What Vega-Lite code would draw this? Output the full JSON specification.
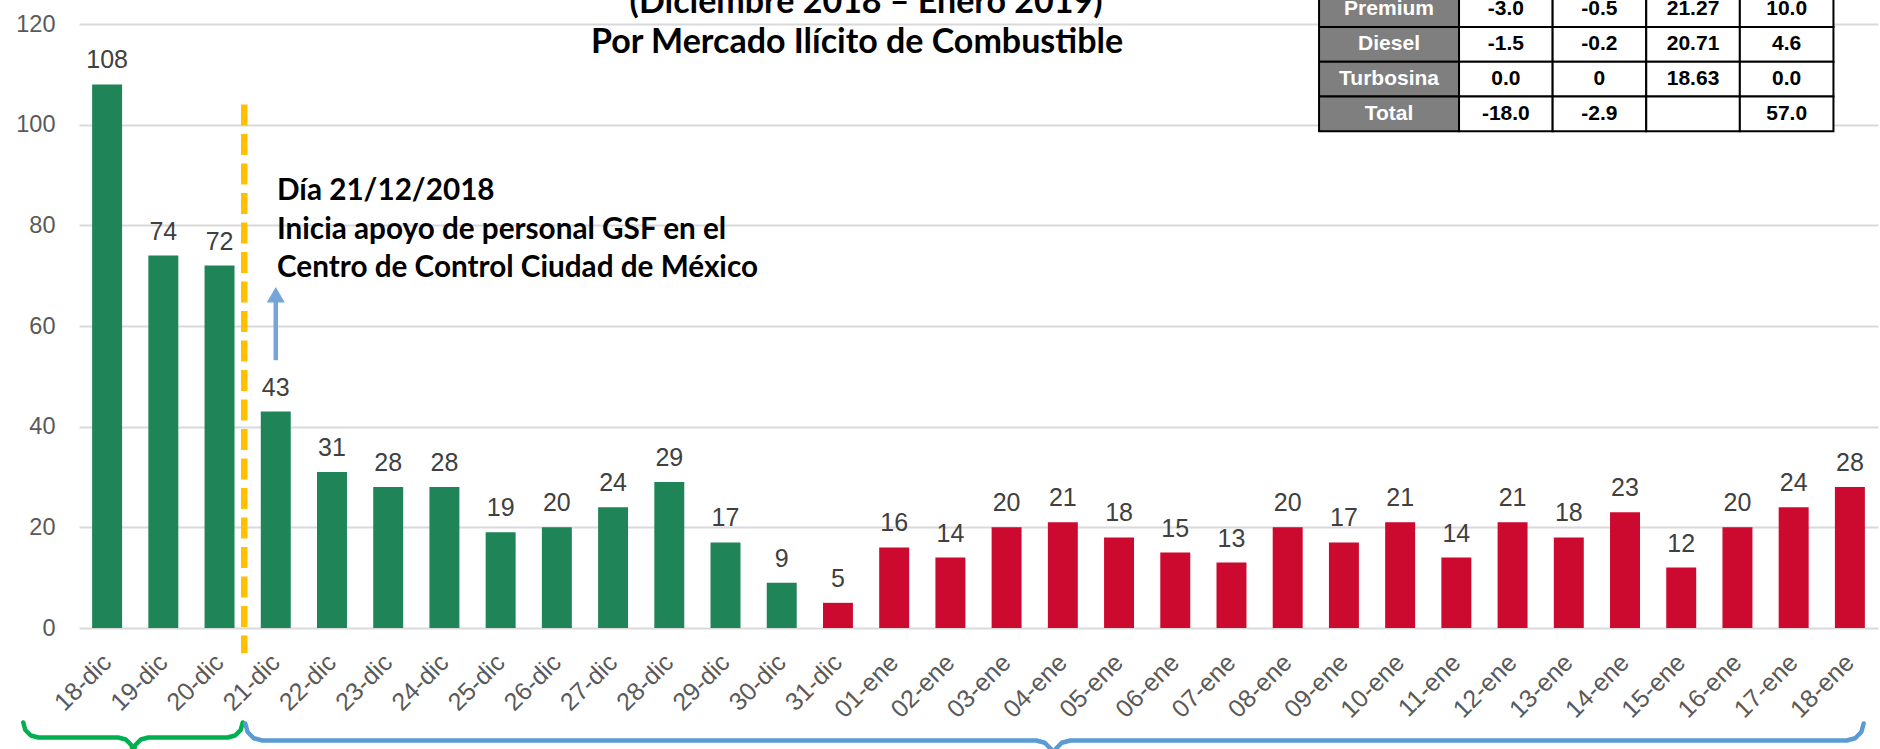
{
  "$schema": "https://vega.github.io/schema/vega-lite/v6.json",
  "width": 1799,
  "height": 604,
  "autosize": {"type": "none"},
  "padding": {"left": 79, "top": 24, "right": 2, "bottom": 121},
  "background": "#ffffff",
  "config": {"view": {"stroke": null}, "font": "Liberation Sans"},
  "datasets": {
    "diario": [
      {"fecha": "18-dic", "valor": 108, "periodo": "dic"},
      {"fecha": "19-dic", "valor": 74, "periodo": "dic"},
      {"fecha": "20-dic", "valor": 72, "periodo": "dic"},
      {"fecha": "21-dic", "valor": 43, "periodo": "dic"},
      {"fecha": "22-dic", "valor": 31, "periodo": "dic"},
      {"fecha": "23-dic", "valor": 28, "periodo": "dic"},
      {"fecha": "24-dic", "valor": 28, "periodo": "dic"},
      {"fecha": "25-dic", "valor": 19, "periodo": "dic"},
      {"fecha": "26-dic", "valor": 20, "periodo": "dic"},
      {"fecha": "27-dic", "valor": 24, "periodo": "dic"},
      {"fecha": "28-dic", "valor": 29, "periodo": "dic"},
      {"fecha": "29-dic", "valor": 17, "periodo": "dic"},
      {"fecha": "30-dic", "valor": 9, "periodo": "dic"},
      {"fecha": "31-dic", "valor": 5, "periodo": "ene"},
      {"fecha": "01-ene", "valor": 16, "periodo": "ene"},
      {"fecha": "02-ene", "valor": 14, "periodo": "ene"},
      {"fecha": "03-ene", "valor": 20, "periodo": "ene"},
      {"fecha": "04-ene", "valor": 21, "periodo": "ene"},
      {"fecha": "05-ene", "valor": 18, "periodo": "ene"},
      {"fecha": "06-ene", "valor": 15, "periodo": "ene"},
      {"fecha": "07-ene", "valor": 13, "periodo": "ene"},
      {"fecha": "08-ene", "valor": 20, "periodo": "ene"},
      {"fecha": "09-ene", "valor": 17, "periodo": "ene"},
      {"fecha": "10-ene", "valor": 21, "periodo": "ene"},
      {"fecha": "11-ene", "valor": 14, "periodo": "ene"},
      {"fecha": "12-ene", "valor": 21, "periodo": "ene"},
      {"fecha": "13-ene", "valor": 18, "periodo": "ene"},
      {"fecha": "14-ene", "valor": 23, "periodo": "ene"},
      {"fecha": "15-ene", "valor": 12, "periodo": "ene"},
      {"fecha": "16-ene", "valor": 20, "periodo": "ene"},
      {"fecha": "17-ene", "valor": 24, "periodo": "ene"},
      {"fecha": "18-ene", "valor": 28, "periodo": "ene"}
    ],
    "llave_verde": [
      {"x": -0.991, "y": -18.775},
      {"x": -0.955, "y": -20.265},
      {"x": -0.857, "y": -21.356},
      {"x": -0.724, "y": -21.755},
      {"x": 0.699, "y": -21.755},
      {"x": 0.832, "y": -22.154},
      {"x": 0.930, "y": -23.243},
      {"x": 0.966, "y": -24.735},
      {"x": 1.002, "y": -23.243},
      {"x": 1.099, "y": -22.154},
      {"x": 1.233, "y": -21.755},
      {"x": 2.645, "y": -21.755},
      {"x": 2.778, "y": -21.356},
      {"x": 2.876, "y": -20.265},
      {"x": 2.912, "y": -18.775}
    ],
    "llave_azul": [
      {"x": 2.958, "y": -18.974},
      {"x": 2.999, "y": -20.662},
      {"x": 3.109, "y": -21.898},
      {"x": 3.260, "y": -22.351},
      {"x": 17.028, "y": -22.351},
      {"x": 17.179, "y": -22.804},
      {"x": 17.290, "y": -24.040},
      {"x": 17.330, "y": -25.729},
      {"x": 17.371, "y": -24.040},
      {"x": 17.481, "y": -22.804},
      {"x": 17.633, "y": -22.351},
      {"x": 31.443, "y": -22.351},
      {"x": 31.594, "y": -21.898},
      {"x": 31.704, "y": -20.662},
      {"x": 31.745, "y": -18.974}
    ],
    "tabla": [
      {"fila": "Premium", "r": 0, "col": 0, "texto": "Premium"},
      {"fila": "Premium", "r": 0, "col": 1, "texto": "-3.0"},
      {"fila": "Premium", "r": 0, "col": 2, "texto": "-0.5"},
      {"fila": "Premium", "r": 0, "col": 3, "texto": "21.27"},
      {"fila": "Premium", "r": 0, "col": 4, "texto": "10.0"},
      {"fila": "Diesel", "r": 1, "col": 0, "texto": "Diesel"},
      {"fila": "Diesel", "r": 1, "col": 1, "texto": "-1.5"},
      {"fila": "Diesel", "r": 1, "col": 2, "texto": "-0.2"},
      {"fila": "Diesel", "r": 1, "col": 3, "texto": "20.71"},
      {"fila": "Diesel", "r": 1, "col": 4, "texto": "4.6"},
      {"fila": "Turbosina", "r": 2, "col": 0, "texto": "Turbosina"},
      {"fila": "Turbosina", "r": 2, "col": 1, "texto": "0.0"},
      {"fila": "Turbosina", "r": 2, "col": 2, "texto": "0"},
      {"fila": "Turbosina", "r": 2, "col": 3, "texto": "18.63"},
      {"fila": "Turbosina", "r": 2, "col": 4, "texto": "0.0"},
      {"fila": "Total", "r": 3, "col": 0, "texto": "Total"},
      {"fila": "Total", "r": 3, "col": 1, "texto": "-18.0"},
      {"fila": "Total", "r": 3, "col": 2, "texto": "-2.9"},
      {"fila": "Total", "r": 3, "col": 3, "texto": ""},
      {"fila": "Total", "r": 3, "col": 4, "texto": "57.0"}
    ]
  },
  "layer": [
    {
      "data": {"name": "diario"},
      "layer": [
        {
          "mark": {"type": "bar"},
          "encoding": {
            "x": {
              "field": "fecha", "type": "nominal", "sort": null,
              "scale": {"paddingInner": 0.467, "paddingOuter": 0.2335},
              "axis": {"title": null, "labelAngle": -45, "labelAlign": "right", "labelBaseline": "middle",
                       "labelFontSize": 25, "labelColor": "#595959", "labelPadding": 30, "labelOffset": 0,
                       "domain": false, "ticks": false, "grid": false}
            },
            "y": {
              "field": "valor", "type": "quantitative",
              "scale": {"domain": [0, 120], "nice": false},
              "axis": {"title": null, "values": [0, 20, 40, 60, 80, 100, 120], "grid": true,
                       "gridColor": "#D9D9D9", "gridWidth": 2, "domain": false, "ticks": false,
                       "labelFontSize": 23.5, "labelColor": "#595959", "labelPadding": 24}
            },
            "color": {
              "field": "periodo", "type": "nominal",
              "scale": {"domain": ["dic", "ene"], "range": ["#1F8457", "#CC092F"]},
              "legend": null
            }
          }
        },
        {
          "mark": {"type": "text", "baseline": "alphabetic", "align": "center", "dy": -16,
                   "fontSize": 25, "color": "#404040"},
          "encoding": {
            "x": {"field": "fecha", "type": "nominal", "sort": null,
                  "scale": {"paddingInner": 0.467, "paddingOuter": 0.2335}},
            "y": {"field": "valor", "type": "quantitative", "scale": {"domain": [0, 120], "nice": false}},
            "text": {"field": "valor", "type": "quantitative"}
          }
        }
      ]
    },
    {
      "layer": [
        {
          "data": {"values": [{}]},
          "mark": {"type": "rule", "color": "#FFC000", "strokeWidth": 6.5, "strokeDash": [21, 8.5]},
          "encoding": {
            "x": {"datum": 2.94, "type": "quantitative", "scale": {"domain": [0, 32], "nice": false, "zero": false}, "axis": null},
            "y": {"datum": 104, "type": "quantitative", "scale": {"domain": [0, 120], "nice": false}, "axis": null},
            "y2": {"datum": -5}
          }
        },
        {
          "data": {"values": [{}]},
          "mark": {"type": "rule", "color": "#75A5DB", "strokeWidth": 4.5},
          "encoding": {
            "x": {"datum": 3.5, "type": "quantitative"},
            "y": {"datum": 53.2, "type": "quantitative"},
            "y2": {"datum": 65.2}
          }
        },
        {
          "data": {"values": [{}]},
          "mark": {"type": "point", "shape": "triangle-up", "size": 324, "filled": true, "color": "#75A5DB", "opacity": 1},
          "encoding": {
            "x": {"datum": 3.5, "type": "quantitative"},
            "y": {"datum": 66.2, "type": "quantitative"}
          }
        },
        {
          "data": {"name": "llave_verde"},
          "mark": {"type": "line", "color": "#00B050", "strokeWidth": 4.5, "strokeJoin": "round", "strokeCap": "round"},
          "encoding": {
            "x": {"field": "x", "type": "quantitative"},
            "y": {"field": "y", "type": "quantitative"}
          }
        },
        {
          "data": {"name": "llave_azul"},
          "mark": {"type": "line", "color": "#5B9BD5", "strokeWidth": 4.5, "strokeJoin": "round", "strokeCap": "round"},
          "encoding": {
            "x": {"field": "x", "type": "quantitative"},
            "y": {"field": "y", "type": "quantitative"}
          }
        },
        {
          "data": {"values": [{}]},
          "mark": {"type": "text", "align": "left", "baseline": "alphabetic", "font": "Lato", "fontWeight": "bold",
                   "fontSize": 29.7, "lineHeight": 38.5, "color": "#000000",
                   "text": ["Día 21/12/2018", "Inicia apoyo de personal GSF en el", "Centro de Control Ciudad de México"]},
          "encoding": {
            "x": {"datum": 3.522, "type": "quantitative"},
            "y": {"datum": 85.03, "type": "quantitative"}
          }
        },
        {
          "data": {"values": [{}]},
          "mark": {"type": "text", "align": "center", "baseline": "alphabetic", "font": "Lato", "fontWeight": "bold",
                   "fontSize": 34, "color": "#000000", "text": "(Diciembre 2018 – Enero 2019)"},
          "encoding": {
            "x": {"datum": 14.0, "type": "quantitative"},
            "y": {"datum": 122.2, "type": "quantitative"}
          }
        },
        {
          "data": {"values": [{}]},
          "mark": {"type": "text", "align": "center", "baseline": "alphabetic", "font": "Lato", "fontWeight": "bold",
                   "fontSize": 34, "color": "#000000", "text": "Por Mercado Ilícito de Combustible"},
          "encoding": {
            "x": {"datum": 13.84, "type": "quantitative"},
            "y": {"datum": 114.2, "type": "quantitative"}
          }
        }
      ]
    },
    {
      "data": {"name": "tabla"},
      "layer": [
        {
          "transform": [{"filter": "datum.col == 0"}],
          "mark": {"type": "point", "shape": "M-1,-0.2486H1V0.2486H-1Z", "size": 19600, "filled": true,
                   "fill": "#7F7F7F", "stroke": "#000000", "strokeWidth": 2, "opacity": 1, "xOffset": -23.2},
          "encoding": {
            "x": {"field": "col", "type": "quantitative", "scale": {"domain": [-14.244, 4.976], "nice": false, "zero": false}, "axis": null},
            "y": {"field": "r", "type": "quantitative", "scale": {"domain": [0.4167, 17.773], "nice": false, "zero": false, "reverse": true}, "axis": null}
          }
        },
        {
          "transform": [{"filter": "datum.col > 0"}],
          "mark": {"type": "point", "shape": "M-1,-0.3718H1V0.3718H-1Z", "size": 8761, "filled": true,
                   "fill": "#FFFFFF", "stroke": "#000000", "strokeWidth": 2, "opacity": 1},
          "encoding": {
            "x": {"field": "col", "type": "quantitative"},
            "y": {"field": "r", "type": "quantitative"}
          }
        },
        {
          "transform": [{"filter": "datum.col == 0"}],
          "mark": {"type": "text", "align": "center", "baseline": "middle", "fontSize": 21, "fontWeight": "bold",
                   "color": "#FFFFFF", "xOffset": -23.2},
          "encoding": {
            "x": {"field": "col", "type": "quantitative"},
            "y": {"field": "r", "type": "quantitative"},
            "text": {"field": "texto"}
          }
        },
        {
          "transform": [{"filter": "datum.col > 0"}],
          "mark": {"type": "text", "align": "center", "baseline": "middle", "fontSize": 21, "fontWeight": "bold",
                   "color": "#000000"},
          "encoding": {
            "x": {"field": "col", "type": "quantitative"},
            "y": {"field": "r", "type": "quantitative"},
            "text": {"field": "texto"}
          }
        }
      ]
    }
  ],
  "resolve": {"scale": {"x": "independent", "y": "independent"}}
}
